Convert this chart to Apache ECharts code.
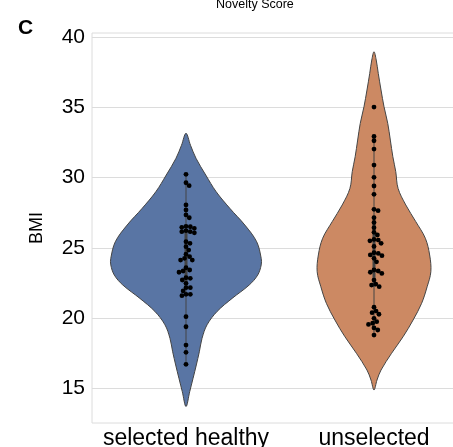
<html>
<head>
<meta charset="utf-8">
<title>BMI</title>
<script src="https://cdn.jsdelivr.net/npm/echarts@6/dist/echarts.min.js"></script>
</head>
<body style="margin:0">
<div id="main" style="width:453px;height:447px"></div>
<script type="text/javascript">
var groups = ['selected healthy', 'unselected'];
var yTicks = [15, 20, 25, 30, 35, 40];

// BMI of every dot
var healthyBmi = [30.23, 29.63, 29.42, 28.05, 27.69, 27.34, 27.14, 26.53, 26.50, 26.46,
	26.39, 26.22, 26.15, 26.15, 26.07, 25.43, 25.32, 25.08, 24.84, 24.54, 24.37, 24.25,
	24.13, 24.13, 23.58, 23.42, 23.35, 23.26, 22.87, 22.83, 22.71, 22.47, 22.16, 22.16,
	21.93, 21.69, 21.69, 21.59, 20.10, 19.38, 18.08, 17.56, 16.71];
var unselectedBmi = [35.02, 32.93, 32.62, 32.03, 30.89, 30.02, 29.40, 28.81, 27.74, 27.64,
	27.14, 26.80, 26.43, 26.10, 25.91, 25.60, 25.55, 25.50, 25.32, 25.10, 24.65, 24.60,
	24.49, 24.44, 24.25, 24.00, 23.42, 23.35, 23.26, 23.18, 22.70, 22.42, 22.35, 22.23,
	20.77, 20.50, 20.38, 20.27, 19.98, 19.74, 19.63, 19.55, 19.30, 19.15, 18.79];

// violin outline: BMI level and relative density at that level
var healthyLevels = [13.7, 14.76, 15.7, 16.66, 17.6, 18.56, 19.52, 20.47, 21.4, 22.35, 23.06,
	23.78, 24.25, 25.43, 26.62, 27.81, 29.0, 30.18, 31.37, 32.3, 33.15];
var healthyDensity = [0, 3.7, 7, 10.3, 13.3, 16, 21, 31, 46, 63, 71.5,
	75, 75, 70.5, 58.7, 43.7, 30, 19.7, 10, 4.5, 0];
var unselectedLevels = [14.88, 15.59, 16.3, 17.49, 18.67, 19.86, 21.05, 22.23, 23.3, 24.49,
	25.68, 26.86, 28.05, 29.23, 30.42, 31.48, 32.67, 33.86, 35.04, 36.23, 37.4, 38.37, 38.96];
var unselectedDensity = [0, 3, 7, 17.5, 29, 39, 47.5, 53, 56.7, 55.5,
	51.2, 41.7, 31.7, 24, 21.7, 18.8, 16.3, 13.7, 10, 7, 4.3, 2.2, 0];

var bmiByGroup = [healthyBmi, unselectedBmi];
var levelsByGroup = [healthyLevels, unselectedLevels];
var densityByGroup = [healthyDensity, unselectedDensity];
var fillColors = ['#5975a4', '#cc8963'];
var edgeColor = '#444444';
var fontName = 'Liberation Sans, Arial, sans-serif';

var maxDensity = Math.max(Math.max.apply(null, healthyDensity), Math.max.apply(null, unselectedDensity));

function quantile(arr, q) {
	var s = arr.slice().sort(function (a, b) { return a - b; });
	var pos = (s.length - 1) * q;
	var lo = Math.floor(pos), hi = Math.ceil(pos);
	return s[lo] + (s[hi] - s[lo]) * (pos - lo);
}

function renderViolin(params, api) {
	var g = api.value(0);
	var levels = levelsByGroup[g], dens = densityByGroup[g];
	var band = api.size([1, 0])[0];
	var cx = api.coord([g, levels[0]])[0];
	var pts = [];
	for (var i = 0; i < levels.length; i++) {
		var hw = dens[i] / maxDensity * 0.4 * band;
		pts.push([cx - hw, api.coord([g, levels[i]])[1]]);
	}
	for (var j = levels.length - 2; j > 0; j--) {
		var hw2 = dens[j] / maxDensity * 0.4 * band;
		pts.push([cx + hw2, api.coord([g, levels[j]])[1]]);
	}
	return {
		type: 'polygon',
		shape: { points: pts, smooth: 0.35 },
		style: { fill: fillColors[g], stroke: edgeColor, lineWidth: 1 }
	};
}

function renderBox(params, api) {
	var g = api.value(0);
	var d = bmiByGroup[g];
	var q1 = quantile(d, 0.25), q3 = quantile(d, 0.75), iqr = q3 - q1;
	var lo = Math.min.apply(null, d.filter(function (v) { return v >= q1 - 1.5 * iqr; }));
	var hi = Math.max.apply(null, d.filter(function (v) { return v <= q3 + 1.5 * iqr; }));
	var pLo = api.coord([g, lo]), pHi = api.coord([g, hi]);
	var pQ1 = api.coord([g, q1]), pQ3 = api.coord([g, q3]);
	return {
		type: 'group',
		children: [
			{ type: 'line', shape: { x1: pLo[0], y1: pLo[1], x2: pHi[0], y2: pHi[1] },
				style: { stroke: edgeColor, lineWidth: 1 } },
			{ type: 'line', shape: { x1: pQ1[0], y1: pQ1[1], x2: pQ3[0], y2: pQ3[1] },
				style: { stroke: edgeColor, lineWidth: 3 } }
		]
	};
}

var myChart = echarts.init(document.getElementById('main'));

var dotSize = 4.8;

function buildOption(dotData) {
	return {
		animation: false,
		title: [
			{ text: 'C', left: 13, top: 13, textStyle: { fontFamily: fontName, fontSize: 21, fontWeight: 'bold', color: '#000' } },
			{ text: 'Novelty Score', left: 211, top: -7, textStyle: { fontFamily: fontName, fontSize: 12.5, fontWeight: 'normal', color: '#000' } }
		],
		grid: { left: 92, top: 33, bottom: 24, width: 376, containLabel: false, outerBoundsMode: 'none',
			show: true, borderColor: '#dcdcdc', borderWidth: 1 },
		xAxis: {
			type: 'category',
			data: groups,
			axisLine: { show: false },
			axisTick: { show: false },
			axisLabel: { interval: 0, fontFamily: fontName, fontSize: 23, color: '#000', margin: 4 }
		},
		yAxis: {
			type: 'value',
			min: 12.53,
			max: 40.29,
			name: 'BMI',
			nameLocation: 'middle',
			nameGap: 46,
			nameTextStyle: { fontFamily: fontName, fontSize: 18, color: '#000' },
			axisLine: { show: false },
			axisTick: { show: false, customValues: yTicks },
			axisLabel: { customValues: yTicks, fontFamily: fontName, fontSize: 21, color: '#000', margin: 7 },
			splitLine: { show: true, lineStyle: { color: '#dcdcdc', width: 1 } }
		},
		series: [
			{ type: 'custom', renderItem: renderViolin, data: [[0], [1]], z: 2 },
			{ type: 'custom', renderItem: renderBox, data: [[0], [1]], z: 3 },
			{
				type: 'custom',
				z: 4,
				data: dotData,
				renderItem: function (params, api) {
					var p = api.coord([api.value(0), api.value(1)]);
					return { type: 'circle', shape: { cx: p[0] + api.value(2), cy: p[1], r: dotSize / 2 }, style: { fill: '#000' } };
				}
			}
		]
	};
}

myChart.setOption(buildOption([]));

// beeswarm layout in pixels so dots do not overlap
function swarm(values) {
	var ys = values.map(function (v) { return myChart.convertToPixel({ yAxisIndex: 0 }, v); });
	var order = ys.map(function (y, i) { return i; }).sort(function (a, b) { return ys[a] - ys[b]; });
	var placed = [], offsets = [];
	var dist = dotSize * 0.9;
	order.forEach(function (i) {
		var y = ys[i];
		var cands = [0];
		placed.forEach(function (p) {
			var dy = Math.abs(p.y - y);
			if (dy < dist) {
				var dx = Math.sqrt(dist * dist - dy * dy);
				cands.push(p.x + dx, p.x - dx);
			}
		});
		var ok = cands.filter(function (x) {
			return placed.every(function (p) {
				return (p.x - x) * (p.x - x) + (p.y - y) * (p.y - y) >= dist * dist - 0.01;
			});
		});
		ok.sort(function (a, b) { return Math.abs(a) - Math.abs(b); });
		var x = ok[0];
		placed.push({ x: x, y: y });
		offsets[i] = x;
	});
	return offsets;
}

var dots = [];
bmiByGroup.forEach(function (vals, g) {
	var off = swarm(vals);
	vals.forEach(function (v, i) { dots.push([g, v, off[i]]); });
});
myChart.setOption(buildOption(dots));
</script>
</body>
</html>
